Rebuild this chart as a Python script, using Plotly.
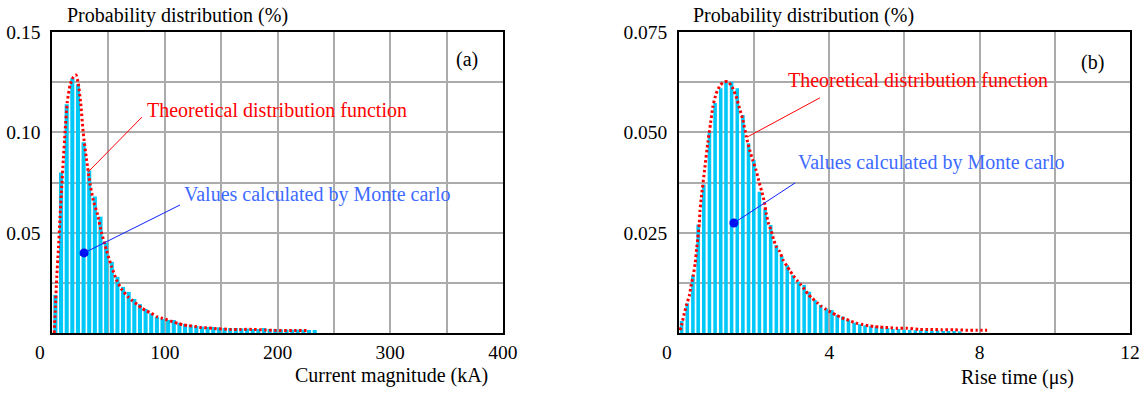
import plotly.graph_objects as go

# ---------------- Panel (a): current magnitude ----------------
current_bins = [3, 8, 13, 18, 23, 28, 33, 38, 43, 48,
                53, 58, 63, 68, 73, 78, 83, 88, 93, 98,
                103, 108, 113, 118, 123, 128, 133, 138, 143, 148,
                153, 158, 163, 168, 173, 178, 183, 188, 193, 198,
                203, 208, 213, 218, 223, 228, 233]
current_prob = [0.019, 0.080, 0.114, 0.127, 0.124, 0.095, 0.081, 0.068, 0.058, 0.045,
                0.0355, 0.028, 0.023, 0.0205, 0.017, 0.0144, 0.012, 0.0098, 0.0081, 0.0071,
                0.0065, 0.0065, 0.0051, 0.0045, 0.0040, 0.0035, 0.0032, 0.0030, 0.0030, 0.0028,
                0.0025, 0.0025, 0.0025, 0.0023, 0.0022, 0.0020, 0.0020, 0.0025, 0.0020, 0.0020,
                0.0018, 0.0017, 0.0017, 0.0017, 0.0017, 0.0015, 0.0015]

current_theory_x = [2, 3, 4.2, 5.6, 7.1, 8.6, 10, 11.5, 13.5, 16, 19, 21.2, 23.3, 25.4, 27.7,
                    30.7, 33.6, 36.6, 40, 44, 48.4, 52.8, 57.3, 61.7, 67.5, 71.4, 75.5, 79.9,
                    83.8, 88.2, 93.2, 98, 102.4, 106.8, 111.8, 116.8, 121.5, 126.5, 131.9,
                    137.4, 142.8, 157.5, 167.8, 178, 188.5, 198.8, 213, 227]
current_theory_y = [0.0, 0.013, 0.028, 0.041, 0.058, 0.073, 0.086, 0.0997, 0.115, 0.1236, 0.1277,
                    0.1286, 0.1244, 0.1146, 0.0997, 0.086, 0.0747, 0.066, 0.0598, 0.0498, 0.041,
                    0.033, 0.0264, 0.0218, 0.018, 0.016, 0.0143, 0.0123, 0.011, 0.0098, 0.0081,
                    0.0073, 0.0065, 0.0056, 0.0048, 0.0040, 0.0036, 0.0033, 0.0028, 0.0026,
                    0.0023, 0.0018, 0.0018, 0.0018, 0.0015, 0.0013, 0.0013, 0.0013]

current_ticks = [50, 100, 150, 200, 250, 300, 350, 400]
current_ticktext = ["", "100", "", "200", "", "300", "", "400"]
prob_a_ticks = [0.025, 0.05, 0.075, 0.10, 0.125, 0.15]
prob_a_ticktext = ["", "0.05", "", "0.10", "", "0.15"]

# ---------------- Panel (b): rise time ----------------
rise_bins = [0.07, 0.22, 0.37, 0.51, 0.66, 0.81, 0.96, 1.11, 1.25, 1.40,
             1.55, 1.70, 1.85, 1.99, 2.14, 2.29, 2.44, 2.59, 2.73, 2.88,
             3.03, 3.18, 3.33, 3.47, 3.62, 3.77, 3.92, 4.07, 4.21, 4.36,
             4.51, 4.66, 4.81, 4.95, 5.10, 5.25, 5.40, 5.55, 5.69, 5.84,
             5.99, 6.14, 6.29, 6.43, 6.58, 6.73, 6.88, 7.03, 7.17, 7.32,
             7.47]
rise_prob = [0.0030, 0.0074, 0.0144, 0.0270, 0.0370, 0.0500, 0.0573, 0.0610, 0.0626, 0.0626,
             0.0610, 0.0543, 0.0473, 0.0431, 0.0352, 0.0310, 0.0269, 0.0219, 0.0192, 0.0169,
             0.0144, 0.0128, 0.0120, 0.0103, 0.0082, 0.0070, 0.0061, 0.0057, 0.0045, 0.0041,
             0.0032, 0.0026, 0.0022, 0.0019, 0.0017, 0.0016, 0.0014, 0.0012, 0.0010, 0.0010,
             0.0008, 0.0008, 0.0007, 0.0007, 0.0007, 0.0006, 0.0006, 0.0005, 0.0005, 0.0005,
             0.0004]

rise_theory_x = [0.03, 0.08, 0.14, 0.2, 0.28, 0.32, 0.38, 0.43, 0.47, 0.5,
                 0.54, 0.56, 0.59, 0.68, 0.77, 0.84, 0.9, 0.99, 1.1, 1.21,
                 1.31, 1.43, 1.52, 1.61, 1.7, 1.79, 1.88, 1.96, 2.05, 2.14,
                 2.21, 2.27, 2.32, 2.38, 2.45, 2.52, 2.59, 2.68, 2.77, 2.87,
                 2.96, 3.05, 3.15, 3.24, 3.34, 3.44, 3.55, 3.67, 3.78, 3.91,
                 4.04, 4.18, 4.32, 4.45, 4.58, 4.74, 4.89, 5.05, 5.18, 5.33,
                 5.47, 5.63, 5.78, 6.07, 6.38, 6.69, 7.0, 7.31, 7.63, 7.94,
                 8.2]
rise_theory_y = [0.0007, 0.0024, 0.0049, 0.007, 0.0095, 0.0118, 0.0144, 0.0173, 0.0211, 0.0236,
                 0.0273, 0.0306, 0.0335, 0.0406, 0.0477, 0.0523, 0.0564, 0.0597, 0.0618, 0.0626,
                 0.0626, 0.061, 0.0589, 0.056, 0.0531, 0.0489, 0.0456, 0.0431, 0.0406, 0.0373,
                 0.035, 0.0327, 0.0298, 0.0273, 0.0256, 0.0232, 0.0215, 0.0203, 0.0182, 0.0167,
                 0.0154, 0.0142, 0.013, 0.012, 0.0109, 0.0096, 0.0086, 0.0076, 0.0067, 0.0059,
                 0.0052, 0.0045, 0.0038, 0.0034, 0.0029, 0.0024, 0.0021, 0.0018, 0.0016, 0.0015,
                 0.0014, 0.0013, 0.0012, 0.0012, 0.0009, 0.0009, 0.0008, 0.0008, 0.0007, 0.0007,
                 0.0007]

rise_ticks = [2, 4, 6, 8, 10, 12]
rise_ticktext = ["", "4", "", "8", "", "12"]
prob_b_ticks = [0.0125, 0.025, 0.0375, 0.05, 0.0625, 0.075]
prob_b_ticktext = ["", "0.025", "", "0.050", "", "0.075"]

# ---------------- styling ----------------
FONT = "Liberation Serif"
BAR_COLOR = "#00C8F8"
RED = "#FF0000"
BLUE_TEXT = "#3D6BFF"
BLUE_LINE = "#1020FF"
GRID = "#ABABAB"

fig = go.Figure()

fig.add_trace(go.Bar(x=current_bins, y=current_prob, width=3.6,
                     marker=dict(color=BAR_COLOR, line=dict(width=0)),
                     xaxis="x", yaxis="y", showlegend=False))
fig.add_trace(go.Scatter(x=current_theory_x, y=current_theory_y, mode="lines",
                         line=dict(color=RED, width=3, dash="2.5px,2.5px", shape="spline", smoothing=0.5),
                         xaxis="x", yaxis="y", showlegend=False))
fig.add_trace(go.Bar(x=rise_bins, y=rise_prob, width=0.095,
                     marker=dict(color=BAR_COLOR, line=dict(width=0)),
                     xaxis="x2", yaxis="y2", showlegend=False))
fig.add_trace(go.Scatter(x=rise_theory_x, y=rise_theory_y, mode="lines",
                         line=dict(color=RED, width=3, dash="2.5px,2.5px", shape="spline", smoothing=0.5),
                         xaxis="x2", yaxis="y2", showlegend=False))

# pointer dots
fig.add_trace(go.Scatter(x=[28.4], y=[0.0399], mode="markers",
                         marker=dict(color="#0010F0", size=9),
                         xaxis="x", yaxis="y", showlegend=False))
fig.add_trace(go.Scatter(x=[1.46], y=[0.0274], mode="markers",
                         marker=dict(color="#0010F0", size=9),
                         xaxis="x2", yaxis="y2", showlegend=False))

axis_common = dict(showgrid=True, gridcolor=GRID, gridwidth=1.5, zeroline=False,
                   showline=True, linecolor="black", linewidth=1.5, mirror=True,
                   ticks="", tickmode="array", automargin=False,
                   tickfont=dict(family=FONT, size=19.5, color="black"))

fig.update_layout(
    width=1146, height=394, autosize=False,
    margin=dict(l=0, r=0, t=0, b=0, pad=0, autoexpand=False),
    paper_bgcolor="white", plot_bgcolor="white",
    font=dict(family=FONT, size=20, color="black"),
    barmode="overlay", showlegend=False,
    xaxis=dict(domain=[0.0454, 0.4389], range=[0, 400], tickvals=current_ticks,
               ticktext=current_ticktext, ticklabelstandoff=1, anchor="y", **axis_common),
    yaxis=dict(domain=[0.1548, 0.9188], range=[0, 0.15], tickvals=prob_a_ticks,
               ticktext=prob_a_ticktext, ticklabelstandoff=6, anchor="x", **axis_common),
    xaxis2=dict(domain=[0.5925, 0.9860], range=[0, 12], tickvals=rise_ticks,
                ticktext=rise_ticktext, ticklabelstandoff=1, anchor="y2", **axis_common),
    yaxis2=dict(domain=[0.1548, 0.9188], range=[0, 0.075], tickvals=prob_b_ticks,
                ticktext=prob_b_ticktext, ticklabelstandoff=6, anchor="x2", **axis_common),
)

# leader lines
fig.add_shape(type="line", xref="x", yref="y", x0=79.8, y0=0.1076, x1=31.9, y1=0.0802,
              line=dict(color=RED, width=1))
fig.add_shape(type="line", xref="x", yref="y", x0=113.5, y0=0.0638, x1=28.4, y1=0.0399,
              line=dict(color=BLUE_LINE, width=1))
fig.add_shape(type="line", xref="x2", yref="y2", x0=3.75, y0=0.0586, x1=1.81, y1=0.0488,
              line=dict(color=RED, width=1))
fig.add_shape(type="line", xref="x2", yref="y2", x0=3.09, y0=0.0374, x1=1.46, y1=0.0274,
              line=dict(color=BLUE_LINE, width=1))

ann = []
def text(x, y, s, xref, yref, color="black", xanchor="left", size=20, xshift=0, yshift=0):
    ann.append(dict(x=x, y=y, xref=xref, yref=yref, text=s, showarrow=False,
                    xanchor=xanchor, yanchor="middle", xshift=xshift, yshift=yshift,
                    font=dict(family=FONT, size=size, color=color)))

# Panel a texts
text(82.5, 0.1111, "Theoretical distribution function", "x", "y", RED)
text(115.3, 0.0688, "Values calculated by Monte carlo", "x", "y", BLUE_TEXT)
text(368, 0.1365, "(a)", "x", "y", xanchor="center")
text(0, 0, "0", "x", "y", xanchor="center", size=19.5, xshift=-12, yshift=-19)
text(65 / 1146, 1 - 15 / 394, "Probability distribution (%)", "paper", "paper")
text(293 / 1146, 1 - 375 / 394, "Current magnitude (kA)", "paper", "paper")

# Panel b texts
text(2.85, 0.0630, "Theoretical distribution function", "x2", "y2", RED)
text(3.11, 0.0424, "Values calculated by Monte carlo", "x2", "y2", BLUE_TEXT)
text(10.99, 0.0675, "(b)", "x2", "y2", xanchor="center")
text(0, 0, "0", "x2", "y2", xanchor="center", size=19.5, xshift=-12, yshift=-19)
text(691 / 1146, 1 - 15 / 394, "Probability distribution (%)", "paper", "paper")
text(959 / 1146, 1 - 377 / 394, "Rise time (\u03bcs)", "paper", "paper")

fig.update_layout(annotations=ann)

fig.write_html("out.html",
               config={"displayModeBar": False},
               post_script="document.body.style.margin='0';document.body.style.overflow='hidden';")
